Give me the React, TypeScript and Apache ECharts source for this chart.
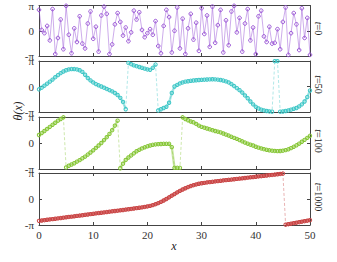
import React, { useEffect, useRef } from "react";
import * as echarts from "echarts";

const PI = Math.PI;

// x grid: 0 .. 50 in steps of 0.5
const xValues: number[] = Array.from({ length: 101 }, (_, i) => i * 0.5);

const thetaT0 = [
  2.6, 0.1, -0.3, 0.6, -1.2, 2.7, -2.9, -0.9, 1.4, -2.3,
  3.1, -0.5, -2.8, 0.3, -1.4, 1.8, -1.6, -2.2, 0.9, 2.4,
  -1.0, 0.5, -2.6, 1.9, 3.0, 2.1, -2.9, -1.7, 0.8, 2.2,
  1.1, -0.6, 0.4, -1.3, -0.2, 2.5, 1.4, 2.3, 0.1, -0.8,
  -0.3, 0.2, -0.5, 1.2, -1.9, -2.8, 0.6, 2.6, 1.7, -2.7,
  0.0, 2.9, -2.2, 1.5, -2.9, 0.3, 2.1, -1.1, 1.0, -2.5,
  2.8, -0.4, 1.9, -2.0, 3.0, -1.5, 0.7, 2.6, -2.7, 1.3,
  -1.8, 2.4, 3.1, -0.2, 1.6, -2.6, 0.9, 2.7, -1.2, 0.4,
  -2.9, 1.8, 2.5, -0.7, -1.4, 0.5, -1.6, -1.5, 0.2, -2.3,
  1.1, 2.9, -3.0, -0.3, 2.2, 0.8, -2.4, 2.8, -0.9, 1.6,
  -3.0,
];

const thetaT50 = [
  -0.35, -0.15, 0.1, 0.35, 0.6, 0.85, 1.15, 1.4, 1.65, 1.85,
  2.0, 2.1, 2.15, 2.15, 2.1, 2.0, 1.8, 1.45, 1.05, 0.75,
  0.5, 0.3, 0.15, 0.0, -0.15, -0.3, -0.45, -0.6, -0.8, -1.05,
  -1.4, -1.9, -2.8, 2.9, 2.75, 2.6, 2.5, 2.4, 2.3, 2.2,
  2.1, 2.05, 2.3, 2.7, -2.95, -2.8, -2.65, -2.5, -2.0, -0.8,
  0.0, 0.2, 0.38, 0.5, 0.6, 0.65, 0.7, 0.74, 0.77, 0.8,
  0.82, 0.84, 0.86, 0.88, 0.89, 0.88, 0.85, 0.8, 0.73, 0.63,
  0.5, 0.3, 0.05, -0.2, -0.45, -0.75, -1.1, -1.45, -1.85, -2.2,
  -2.5, -2.7, -2.85, -2.95, -3.02, -3.07, -3.1, 3.12, 3.12, -3.1,
  -3.08, -3.02, -2.95, -2.85, -2.75, -2.65, -2.45, -2.2, -1.85, -1.3,
  -0.5,
];

const thetaT100 = [
  0.97, 1.2, 1.45, 1.7, 1.95, 2.2, 2.45, 2.7, 2.9, 3.1,
  -2.95, -2.75, -2.6, -2.45, -2.25, -2.07, -1.85, -1.65, -1.4, -1.15,
  -0.88, -0.6, -0.3, 0.0, 0.35, 0.7, 1.1, 1.55, 2.1, 2.7,
  -3.05, -2.5, -2.05, -1.75, -1.5, -1.25, -1.0, -0.82, -0.66, -0.52,
  -0.4, -0.3, -0.22, -0.17, -0.14, -0.12, -0.1, -0.1, -0.1, -0.5,
  -3.0, -3.0, -3.0, 3.1, 2.9, 2.75, 2.6, 2.5, 2.3, 2.1,
  1.95, 1.85, 1.75, 1.65, 1.55, 1.45, 1.37, 1.28, 1.15, 1.02,
  0.9, 0.75, 0.62, 0.5, 0.35, 0.2, 0.05, -0.08, -0.2, -0.3,
  -0.45, -0.56, -0.66, -0.75, -0.82, -0.88, -0.93, -0.96, -0.98, -0.97,
  -0.93, -0.86, -0.76, -0.62, -0.46, -0.28, -0.08, 0.15, 0.38, 0.62,
  0.87,
];

const thetaT1000 = [
  -2.64, -2.6, -2.56, -2.51, -2.47, -2.43, -2.39, -2.34, -2.3, -2.26,
  -2.21, -2.17, -2.13, -2.09, -2.04, -2.0, -1.96, -1.91, -1.87, -1.83,
  -1.79, -1.74, -1.7, -1.66, -1.62, -1.58, -1.53, -1.49, -1.45, -1.41,
  -1.37, -1.33, -1.28, -1.24, -1.2, -1.15, -1.1, -1.06, -1.01, -0.96,
  -0.9, -0.83, -0.74, -0.63, -0.5, -0.35, -0.18, 0.0, 0.2, 0.4,
  0.6, 0.8, 0.98, 1.15, 1.3, 1.44, 1.56, 1.67, 1.76, 1.84,
  1.9, 1.95, 2.0, 2.04, 2.08, 2.12, 2.16, 2.2, 2.24, 2.28,
  2.32, 2.35, 2.39, 2.43, 2.47, 2.5, 2.54, 2.58, 2.62, 2.65,
  2.69, 2.73, 2.76, 2.8, 2.84, 2.88, 2.91, 2.95, 2.99, 3.03,
  3.07, -3.1, -3.04, -2.98, -2.92, -2.86, -2.8, -2.74, -2.68, -2.62,
  -2.56,
];

const panelSeries = [thetaT0, thetaT50, thetaT100, thetaT1000];
const panelTimes = ["0", "50", "100", "1000"];
const panelColors = ["#9a55d6", "#3cc6c6", "#84c533", "#c94444"];

const gridTops = [5, 61, 117, 173];
const gridHeights = [51, 51, 52, 52];
const gridLeft = 39;
const gridRight = 27;

const FONT = "'Liberation Serif', 'DejaVu Serif', serif";
const AXIS_COLOR = "#444";

function piLabel(v: number): string {
  if (Math.abs(v - PI) < 1e-6) return "π";
  if (Math.abs(v + PI) < 1e-6) return "-π";
  if (Math.abs(v) < 1e-6) return "0";
  return "";
}

// continuous band for the smooth panels, broken where the phase wraps
function bandData(ys: number[]): any[] {
  const out: any[] = [];
  for (let k = 0; k < ys.length; k++) {
    if (k > 0 && Math.abs(ys[k] - ys[k - 1]) > 3) {
      out.push([(xValues[k] + xValues[k - 1]) / 2, "-"]);
    }
    out.push([xValues[k], ys[k]]);
  }
  return out;
}

export default function App() {
  const ref = useRef<HTMLDivElement>(null);

  useEffect(() => {
    if (!ref.current) return;
    const chart = echarts.init(ref.current, undefined, { renderer: "svg" });

    const grids: any[] = [];
    const xAxes: any[] = [];
    const yAxes: any[] = [];
    const series: any[] = [];
    const graphics: any[] = [];

    const lineStyle = { color: AXIS_COLOR, width: 1 };

    for (let i = 0; i < 4; i++) {
      grids.push({
        left: gridLeft,
        right: gridRight,
        top: gridTops[i],
        height: gridHeights[i],
        containLabel: false,
      });
      const xBase = {
        gridIndex: i,
        type: "value",
        min: 0,
        max: 50,
        interval: 10,
        axisLine: { show: true, onZero: false, lineStyle },
        axisTick: { show: true, inside: true, length: 3, lineStyle },
        splitLine: { show: false },
      };
      xAxes.push({
        ...xBase,
        position: "bottom",
        axisLabel: {
          show: i === 3,
          fontFamily: FONT,
          fontSize: 11,
          color: "#333",
          margin: 4,
        },
      });
      xAxes.push({
        ...xBase,
        position: "top",
        axisLabel: { show: false },
      });
      const yBase = {
        gridIndex: i,
        type: "value",
        min: -PI,
        max: PI,
        interval: PI,
        axisLine: { show: true, onZero: false, lineStyle },
        axisTick: { show: true, inside: true, length: 3, lineStyle },
        splitLine: { show: false },
      };
      yAxes.push({
        ...yBase,
        position: "left",
        axisLabel: {
          show: true,
          formatter: (v: number) => piLabel(v),
          fontFamily: FONT,
          fontSize: 11,
          color: "#333",
          margin: 5,
          showMinLabel: true,
          showMaxLabel: true,
        },
      });
      yAxes.push({
        ...yBase,
        position: "right",
        axisLabel: { show: false },
      });

      const color = panelColors[i];
      const ys = panelSeries[i];

      if (i > 0) {
        series.push({
          type: "line",
          xAxisIndex: 2 * i,
          yAxisIndex: 2 * i,
          data: bandData(ys),
          showSymbol: false,
          symbol: "none",
          clip: false,
          connectNulls: false,
          lineStyle: { color, width: i === 3 ? 3.2 : 2.4, opacity: i === 3 ? 0.75 : 0.45 },
          emphasis: { disabled: true },
          z: 1,
        });
      }

      series.push({
        type: "line",
        xAxisIndex: 2 * i,
        yAxisIndex: 2 * i,
        data: xValues.map((x, k) => [x, ys[k]]),
        symbol: "circle",
        symbolSize: i === 0 ? 3.6 : 3.4,
        showSymbol: true,
        clip: false,
        itemStyle: {
          color: "rgba(255,255,255,0)",
          borderColor: color,
          borderWidth: 1,
        },
        lineStyle:
          i === 0
            ? { color, width: 0.7, opacity: 0.7, type: "solid" }
            : { color, width: 0.8, opacity: 0.5, type: [3, 2] },
        emphasis: { disabled: true },
        z: 2,
      });

      graphics.push({
        type: "text",
        x: 318,
        y: gridTops[i] + gridHeights[i] / 2 - 2,
        rotation: -Math.PI / 2,
        style: {
          text: "{i|t}=" + panelTimes[i],
          rich: {
            i: { fontStyle: "italic", fontFamily: FONT, fontSize: 10, fill: "#222" },
          },
          fontFamily: FONT,
          fontSize: 10,
          fill: "#222",
          align: "center",
          verticalAlign: "middle",
        },
      });
    }

    graphics.push({
      type: "text",
      x: 18,
      y: 111,
      rotation: Math.PI / 2,
      style: {
        text: "θ(x)",
        fontFamily: FONT,
        fontStyle: "italic",
        fontSize: 12,
        fill: "#222",
        align: "center",
        verticalAlign: "middle",
      },
    });
    graphics.push({
      type: "text",
      x: 174,
      y: 246,
      style: {
        text: "x",
        fontFamily: FONT,
        fontStyle: "italic",
        fontSize: 12,
        fill: "#222",
        align: "center",
        verticalAlign: "middle",
      },
    });

    chart.setOption({
      animation: false,
      backgroundColor: "#ffffff",
      grid: grids,
      xAxis: xAxes,
      yAxis: yAxes,
      series,
      graphic: graphics,
    });

    return () => chart.dispose();
  }, []);

  return (
    <div
      ref={ref}
      style={{ position: "fixed", left: 0, top: 0, width: 337, height: 262 }}
    />
  );
}
